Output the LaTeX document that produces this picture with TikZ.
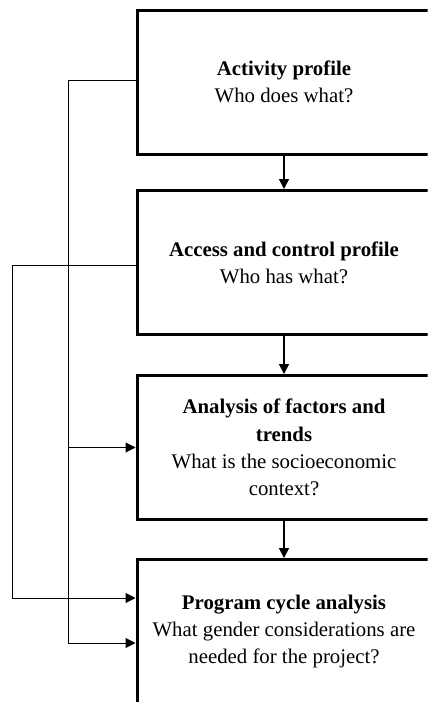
\documentclass[tikz,border=0pt]{standalone}
\usepackage{fontspec}
\setmainfont{Liberation Serif}
\usetikzlibrary{positioning, arrows.meta}

\begin{document}
\begin{tikzpicture}[x=1pt, y=-1pt,
                stage/.style={rectangle, draw=black, line width=3pt, minimum width=294pt, minimum height=144pt, inner sep=0pt, align=center, font=\fontsize{20.8}{27.2}\selectfont},
                flow/.style={-{Triangle[length=10pt, width=10pt]}, line width=1.5pt},
                feed/.style={-{Triangle[length=10pt, width=10pt]}, line width=1pt}
            ]
                \useasboundingbox (0,0) rectangle (429,702);
                \clip (0,0) rectangle (427.5,702);

                % Stages
                \node[stage] (act) at (284,82) {\textbf{Activity profile}\\Who does what?};
                \node[stage] (acc) at (284,262.5) {\textbf{Access and control profile}\\Who has what?};
                \node[stage] (fac) at (284,447.5) {\textbf{Analysis of factors and}\\\textbf{trends}\\What is the socioeconomic\\context?};
                \node[stage] (prog) at (284,631.5) {\textbf{Program cycle analysis}\\What gender considerations are\\needed for the project?};

                % Main flow
                \draw[flow] (act) -- (acc);
                \draw[flow] (acc) -- (fac);
                \draw[flow] (fac) -- (prog);

                % Feedback lines on the left
                \coordinate (trunkA) at (68,80);
                \coordinate (trunkB) at (12,265);
                \draw[line width=1pt] ([yshift=2pt]act.west) -- (trunkA);
                \draw[feed] (trunkA) |- (fac.west);
                \draw[feed] (trunkA) |- ([yshift=-11.5pt]prog.west);
                \draw[line width=1pt] ([yshift=-2.5pt]acc.west) -- (trunkB);
                \draw[feed] (trunkB) |- ([yshift=33.5pt]prog.west);
            \end{tikzpicture}
\end{document}
